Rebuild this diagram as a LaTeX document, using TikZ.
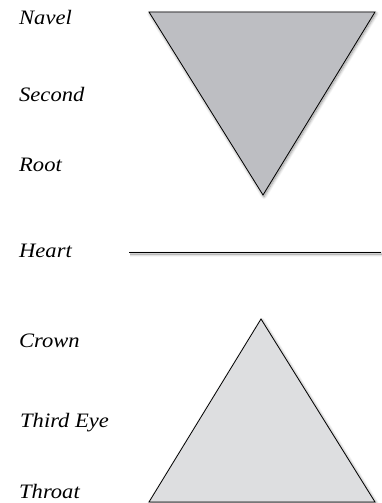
\documentclass[tikz,border=0pt]{standalone}
\usepackage{fontspec}
\setmainfont{Liberation Serif}[FakeStretch=1.1]
\usetikzlibrary{shadows.blur}
\definecolor{topfill}{RGB}{189,190,194}
\definecolor{botfill}{RGB}{221,222,224}
\begin{document}
\begin{tikzpicture}[x=1pt,y=-1pt,
  lbl/.style={anchor=base west,inner sep=0pt,font=\fontsize{20.5}{24}\selectfont\itshape},
  shd/.style={blur shadow={shadow blur steps=10,shadow blur radius=3pt,shadow xshift=1pt,shadow yshift=-1.5pt,shadow opacity=45}},
  tri/.style={draw=black,line width=0.8pt,line join=miter,shd}]
\useasboundingbox (0,0) rectangle (381,503);
\node[lbl] (navel) at (19,25) {Navel};
\node[lbl] (second) at (19,101.5) {Second};
\node[lbl] (root) at (19,171.5) {Root};
\node[lbl] (heart) at (19,257) {Heart};
\node[lbl] (crown) at (19,347) {Crown};
\node[lbl] (third) at (20,427) {Third Eye};
\node[lbl] (throat) at (19,498.5) {Throat};
\filldraw[tri,fill=topfill] (149,12) -- (375,12) -- (263,195) -- cycle;
\draw[line width=0.8pt,shd] (129,252.5) -- (381,252.5);
\filldraw[tri,fill=botfill] (149,502) -- (261,319) -- (375,502) -- cycle;
\end{tikzpicture}
\end{document}
